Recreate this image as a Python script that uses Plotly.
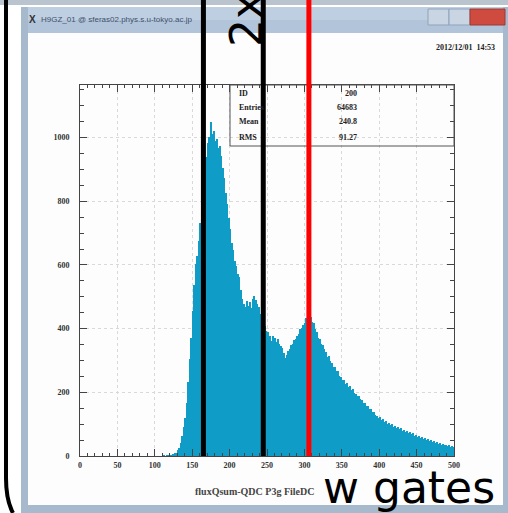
import plotly.graph_objects as go

# ---- histogram data (bin width 2, first bin starts at 110) ----
bin_start = 110
bin_width = 2
counts = [
    0, 1, 0, 2, 1, 3, 2, 5, 8, 11,
    18, 26, 40, 62, 90, 118, 165, 232, 305, 372,
    455, 538, 602, 628, 676, 731, 795, 858, 905, 938,
    982, 1003, 1048, 1012, 1021, 988, 995, 968, 972, 941,
    905, 874, 826, 792, 748, 712, 668, 646, 612, 596,
    571, 562, 521, 494, 478, 469, 488, 471, 483, 466,
    492, 503, 489, 478, 468, 447, 433, 412, 408, 391,
    388, 372, 376, 361, 378, 369, 357, 368, 352, 344,
    338, 322, 309, 318, 331, 337, 348, 351, 364, 368,
    377, 382, 398, 401, 412, 418, 433, 441, 432, 436,
    421, 417, 398, 389, 372, 368, 352, 349, 336, 327,
    312, 314, 298, 293, 281, 278, 266, 268, 252, 248,
    239, 238, 226, 228, 217, 219, 207, 209, 198, 196,
    188, 187, 178, 176, 168, 167, 156, 158, 149, 147,
    139, 138, 129, 127, 120, 123, 113, 116, 108, 109,
    101, 104, 96, 99, 92, 95, 88, 90, 84, 87,
    80, 83, 76, 79, 72, 75, 68, 71, 64, 67,
    61, 63, 57, 59, 53, 55, 49, 52, 46, 49,
    44, 46, 41, 44, 39, 41, 36, 38, 34, 36,
    31, 33, 29, 31, 27,
]
centers = [bin_start + bin_width * (i + 0.5) for i in range(len(counts))]

# gates and marker line on the QDC axis
gate_edges = [165, 245]
marker_line = 306

# statistics box
stat_labels = ["ID", "Entries", "Mean", "RMS"]
stat_values = ["200", "64683", "240.8", "91.27"]

x_ticks = [0, 50, 100, 150, 200, 250, 300, 350, 400, 450, 500]
y_ticks = [0, 200, 400, 600, 800, 1000]

# ---- canvas geometry (pixels) ----
W_IMG, H_IMG = 508, 513
L, R, T, B = 80, 454, 85, 456


def px(x):
    return (x - L) / (R - L)


def py(y):
    return (B - y) / (B - T)


fig = go.Figure()

fig.add_trace(go.Bar(
    x=centers, y=counts, width=bin_width,
    marker=dict(color="#0f9dc8", line=dict(width=0)),
    hoverinfo="skip",
))

shapes = []


def rect(x0, y0, x1, y1, fill, line_color=None, layer="below", lw=0):
    shapes.append(dict(
        type="rect", xref="paper", yref="paper",
        x0=px(x0), x1=px(x1), y0=py(y0), y1=py(y1),
        fillcolor=fill, line=dict(color=line_color or fill, width=lw),
        layer=layer,
    ))


# window chrome
rect(0, 0, W_IMG, 5, "#b9c4cf", layer="above")
rect(21, 7, 505, 33, "#bfcfe2", layer="above")
rect(21, 20, 505, 33, "#b1c4da", layer="above")
rect(21, 7, 28, 510, "#a7b9cc", layer="above")
rect(503, 7, 508, 510, "#a7b9cc", layer="above")
rect(21, 505, 508, 513, "#a7b9cc", layer="above")
rect(28, 33, 503, 505, "#fdfdfd")
rect(428, 9, 449, 25, "#c9d5e3", "#8fa3ba", layer="above", lw=1)
rect(449, 9, 470, 25, "#c9d5e3", "#8fa3ba", layer="above", lw=1)
rect(470, 9, 505, 25, "#cf4b3f", "#9b3a32", layer="above", lw=1)

# statistics box frame
rect(230, T, R, 146, "rgba(0,0,0,0)", "#555555", layer="above", lw=1)

# gate lines and marker line, from the top of the canvas down to the x axis
for g in gate_edges:
    shapes.append(dict(type="line", xref="x", yref="paper",
                       x0=g, x1=g, y0=0, y1=py(0),
                       line=dict(color="black", width=5), layer="above"))
shapes.append(dict(type="line", xref="x", yref="paper",
                   x0=marker_line, x1=marker_line, y0=0, y1=py(0),
                   line=dict(color="#ff0000", width=5), layer="above"))

# bracket stroke on the left edge
shapes.append(dict(
    type="path", xref="paper", yref="paper",
    path=(f"M {px(6)},{py(0)} L {px(6)},{py(478)} "
          f"Q {px(6)},{py(500)} {px(13)},{py(513)}"),
    line=dict(color="black", width=4), layer="above",
))

annotations = []


def text(x, y, s, size, color="#222222", family="Liberation Serif",
         xanchor="left", yanchor="middle", weight="normal", angle=0):
    annotations.append(dict(
        x=px(x), y=py(y), xref="paper", yref="paper", text=s,
        showarrow=False, xanchor=xanchor, yanchor=yanchor, textangle=angle,
        font=dict(size=size, color=color, family=family, weight=weight),
    ))


text(27, 19, "X", 10, "#333333", "Liberation Sans", weight="bold")
text(39, 19, "H9GZ_01 @ sferas02.phys.s.u-tokyo.ac.jp", 8, "#40506a",
     "Liberation Sans")
text(497, 48, "2012/12/01  14:53", 8, "#222222", xanchor="right",
     weight="bold")

row_y = [93, 107, 122, 137]
for lab, val, yy in zip(stat_labels, stat_values, row_y):
    text(237, yy, lab, 8, "#222222", weight="bold")
    text(359, yy, val, 8, "#222222", xanchor="right", weight="bold")

text(193, 492, "fluxQsum-QDC P3g FileDC", 10, "#444444", weight="bold")

text(321, 487, "w gates", 44, "black", "DejaVu Sans")
text(247, 20, "2x", 44, "black", "DejaVu Sans", xanchor="center", angle=-90)

axis_common = dict(
    showline=True, linecolor="#444444", linewidth=1, mirror="allticks",
    ticks="inside", ticklen=7, tickcolor="#444444",
    showgrid=True, gridcolor="#d9d9d9", gridwidth=1, griddash="dot",
    zeroline=False,
    tickfont=dict(family="Liberation Serif", size=8, color="#333333",
                  weight="bold"),
)

fig.update_layout(
    width=W_IMG, height=H_IMG,
    margin=dict(l=L, r=W_IMG - R, t=T, b=H_IMG - B),
    paper_bgcolor="white", plot_bgcolor="rgba(0,0,0,0)",
    showlegend=False, bargap=0,
    xaxis=dict(range=[0, 500], tickvals=x_ticks,
               minor=dict(dtick=10, ticklen=3, ticks="inside",
                          tickcolor="#444444", showgrid=False),
               ticklabelstandoff=1, **axis_common),
    yaxis=dict(range=[0, 1165], tickvals=y_ticks,
               minor=dict(dtick=50, ticklen=4, ticks="inside",
                          tickcolor="#444444", showgrid=False),
               ticklabelstandoff=8, **axis_common),
    shapes=shapes, annotations=annotations,
)

fig.write_html("out.html")
